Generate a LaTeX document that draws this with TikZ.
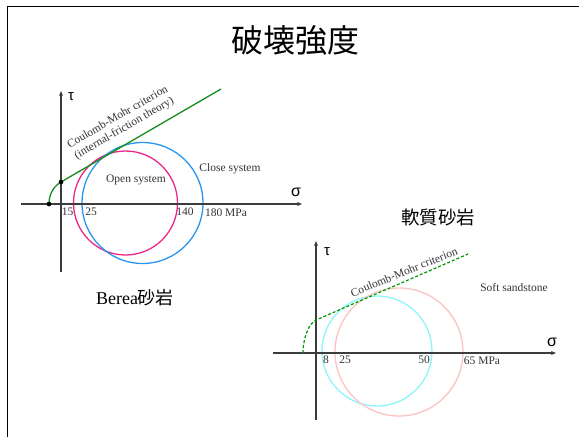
\documentclass[tikz,border=0pt]{standalone}
\usepackage{fontspec}
\setmainfont{Liberation Serif}
\newfontfamily\cjk{Noto Sans CJK JP}
\newfontfamily\grk{Liberation Sans}
\usetikzlibrary{arrows.meta}
\definecolor{lgreen}{RGB}{20,140,30}
\definecolor{dgreen}{RGB}{0,150,0}
\definecolor{mpink}{RGB}{235,40,135}
\definecolor{mblue}{RGB}{40,150,240}
\definecolor{lcyan}{RGB}{140,245,250}
\definecolor{lpink}{RGB}{250,195,195}
\definecolor{axgray}{RGB}{60,60,60}
\tikzset{
  axis/.style={draw=axgray, line width=1.1pt, -{Stealth[length=5pt,width=4pt]}},
  lbl/.style={font=\fontsize{11.5}{13}\selectfont, inner sep=0pt, text=black!80},
  greek/.style={font=\grk\fontsize{16}{17}\selectfont, inner sep=0pt},
  greeks/.style={font=\grk\fontsize{15}{16}\selectfont, inner sep=0pt},
  circ/.style={line width=1.3pt},
  dot/.style={circle, fill=black, inner sep=0pt, minimum size=4.5pt},
}
\begin{document}
\begin{tikzpicture}[x=1pt,y=-1pt]
\useasboundingbox (0,0) rectangle (579,437);
% frame
\coordinate (f1) at (7,437);
\coordinate (f2) at (7,6);
\coordinate (f3) at (579,6);
\draw[line width=1pt] (f1) -- (f2) -- (f3);
% title
\node[font=\cjk\fontsize{32}{34}\selectfont, inner sep=0pt] (title) at (295,40) {破壊強度};

% ---------- left diagram ----------
\coordinate (Lx0) at (21,204);
\coordinate (Lx1) at (302,204);
\coordinate (Ly0) at (61,272);
\coordinate (Ly1) at (61,91);
\draw[mpink, circ] (125.5,203) circle (52);
\draw[mblue, circ] (142.5,203) circle (60.5);
\draw[axis] (Lx0) -- (Lx1);
\draw[axis] (Ly0) -- (Ly1);
\node[greeks] (Ltau) at (71,97) {τ};
\node[greek] (Lsig) at (296,192) {σ};
\node[dot] (Ld1) at (49,204) {};
\node[dot] (Ld2) at (61,182) {};
\coordinate (Lend) at (221,89);
\draw[lgreen, line width=1.3pt] (Ld1.center) .. controls (49,192) and (55.5,185.2) .. (Ld2.center) -- (Lend);
\node[dot] at (Ld1) {};
\node[dot] at (Ld2) {};
\node[lbl, rotate=30, align=center] (Lcm) at (121,123) {Coulomb-Mohr criterion\\(internal-friction theory)};
\node[lbl] (Lopen) at (136,180) {Open system};
\node[lbl] (Lclose) at (230,169) {Close system};
\node[lbl] (L15) at (67.5,212) {15};
\node[lbl] (L25) at (91,212) {25};
\node[lbl] (L140) at (185,212) {140};
\node[lbl] (L180) at (226,213) {180 MPa};
\node[inner sep=0pt, font=\fontsize{18}{19}\selectfont] (Lname) at (135,298) {Berea{\cjk 砂岩}};

% ---------- right diagram ----------
\node[font=\cjk\fontsize{18.5}{19}\selectfont, inner sep=0pt] (Rname) at (438,217) {軟質砂岩};
\coordinate (Rx0) at (273,353);
\coordinate (Rx1) at (556,353);
\coordinate (Ry0) at (316,420);
\coordinate (Ry1) at (316,241);
\draw[lcyan, circ] (377,351) circle (55);
\draw[lpink, circ] (399,352) circle (64);
\draw[axis] (Rx0) -- (Rx1);
\draw[axis] (Ry0) -- (Ry1);
\node[greeks] (Rtau) at (327,252) {τ};
\node[greek] (Rsig) at (552,342) {σ};
\coordinate (Rs) at (303,353);
\coordinate (Rk) at (316,320);
\coordinate (Rend) at (468,254);
\draw[dgreen, line width=1.2pt, dash pattern=on 3pt off 2pt] (Rs) .. controls (303,338) and (309,323) .. (Rk) -- (Rend);
\node[lbl, rotate=22] (Rcm) at (404,272) {Coulomb-Mohr criterion};
\node[lbl] (Rsoft) at (514,288) {Soft sandstone};
\node[lbl] (R8) at (326,360) {8};
\node[lbl] (R25) at (345,360) {25};
\node[lbl] (R50) at (424,360) {50};
\node[lbl] (R65) at (482,361) {65 MPa};
\end{tikzpicture}
\end{document}
